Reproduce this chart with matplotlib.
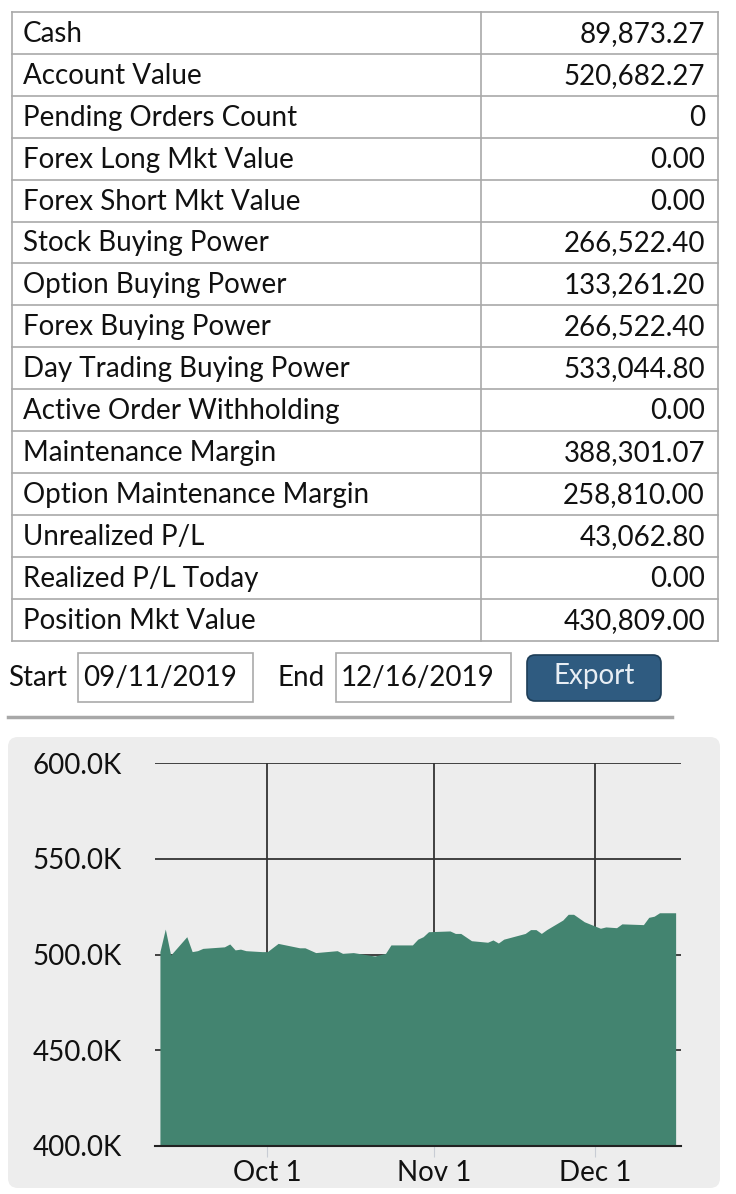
import numpy as np
import matplotlib.pyplot as plt
import matplotlib.dates as mdates
from matplotlib.patches import FancyBboxPatch, Rectangle

plt.rcParams['font.family'] = ['Lato', 'DejaVu Sans']

labels = ['Cash', 'Account Value', 'Pending Orders Count', 'Forex Long Mkt Value',
          'Forex Short Mkt Value', 'Stock Buying Power', 'Option Buying Power',
          'Forex Buying Power', 'Day Trading Buying Power', 'Active Order Withholding',
          'Maintenance Margin', 'Option Maintenance Margin', 'Unrealized P/L',
          'Realized P/L Today', 'Position Mkt Value']
values = ['89,873.27', '520,682.27', '0', '0.00', '0.00', '266,522.40', '133,261.20',
          '266,522.40', '533,044.80', '0.00', '388,301.07', '258,810.00', '43,062.80',
          '0.00', '430,809.00']

dates = ['2019-09-11', '2019-09-12', '2019-09-13', '2019-09-16', '2019-09-17', '2019-09-18',
         '2019-09-19', '2019-09-23', '2019-09-24', '2019-09-25', '2019-09-26', '2019-09-27',
         '2019-09-30', '2019-10-01', '2019-10-03', '2019-10-07', '2019-10-08', '2019-10-10',
         '2019-10-14', '2019-10-15', '2019-10-17', '2019-10-21', '2019-10-23', '2019-10-24',
         '2019-10-28', '2019-10-29', '2019-10-30', '2019-10-31', '2019-11-04', '2019-11-05',
         '2019-11-06', '2019-11-08', '2019-11-11', '2019-11-12', '2019-11-13', '2019-11-14',
         '2019-11-18', '2019-11-19', '2019-11-20', '2019-11-21', '2019-11-22', '2019-11-25',
         '2019-11-26', '2019-11-27', '2019-11-29', '2019-12-02', '2019-12-03', '2019-12-05',
         '2019-12-06', '2019-12-10', '2019-12-11', '2019-12-12', '2019-12-13', '2019-12-16']
account_k = [501.5, 513.3, 499.7, 509.3, 501.5, 502.0, 503.2, 504.0, 505.5, 502.4, 502.8,
             502.0, 501.5, 501.5, 505.8, 503.5, 503.5, 501.0, 502.0, 500.6, 501.0, 499.2,
             500.6, 505.0, 505.0, 508.0, 509.3, 511.9, 512.3, 511.0, 511.0, 507.2, 506.4,
             507.6, 506.0, 508.0, 511.0, 513.0, 513.0, 511.0, 513.0, 518.0, 521.0, 521.0,
             517.1, 513.7, 514.4, 514.0, 516.0, 515.6, 519.4, 520.0, 521.8, 521.8]

W, H = 736, 1194
FS = 20
fig = plt.figure(figsize=(W / 100, H / 100), dpi=100)
bg = fig.add_axes([0, 0, 1, 1])
bg.set_xlim(0, W)
bg.set_ylim(H, 0)
bg.axis('off')

# table
top, rh = 12, 41.9
grid_c = '#a9a9a9'
n = len(labels)
for i in range(n + 1):
    bg.plot([12, 718], [top + i * rh] * 2, color=grid_c, lw=1.2)
for x in (12, 481, 718):
    bg.plot([x, x], [top, top + n * rh], color=grid_c, lw=1.2)
for i, (lab, val) in enumerate(zip(labels, values)):
    yc = top + (i + 0.5) * rh + 1
    bg.text(23, yc, lab, fontsize=FS, va='center', ha='left', color='#111')
    bg.text(705, yc, val, fontsize=FS, va='center', ha='right', color='#111')

# date controls
bg.text(8, 678, 'Start', fontsize=FS, va='center', color='#111')
bg.add_patch(Rectangle((78, 653), 175, 49, fill=False, ec='#aaa', lw=1.2))
bg.text(83, 678, '09/11/2019', fontsize=FS, va='center', color='#111')
bg.text(278, 678, 'End', fontsize=FS, va='center', color='#111')
bg.add_patch(Rectangle((336, 653), 175, 49, fill=False, ec='#aaa', lw=1.2))
bg.text(341, 678, '12/16/2019', fontsize=FS, va='center', color='#111')
bg.add_patch(FancyBboxPatch((530, 658), 128, 40, boxstyle='round,pad=3,rounding_size=8',
                            fc='#2f5b80', ec='#1d3d57', lw=1.2))
bg.text(594, 676, 'Export', fontsize=FS, va='center', ha='center', color='#e8eef4')
bg.plot([8, 672], [717, 717], color='#a8a8a8', lw=2.5)

# chart panel
bg.add_patch(FancyBboxPatch((12, 741), 704, 443, boxstyle='round,pad=4,rounding_size=10',
                            fc='#ededed', ec='none'))

ax = fig.add_axes([155 / W, (H - 1146) / H, (681 - 155) / W, (1146 - 763) / H])
ax.set_facecolor('none')
x = np.array(dates, dtype='datetime64[D]')
ax.fill_between(x, 400, account_k, color='#438470', lw=0, zorder=3)
ax.set_ylim(400, 600)
ax.set_xlim(np.datetime64('2019-09-10') + np.timedelta64(2, 'h'),
            np.datetime64('2019-12-17'))
ax.set_yticks([400, 450, 500, 550, 600])
ax.set_yticklabels(['400.0K', '450.0K', '500.0K', '550.0K', '600.0K'], fontsize=FS)
ax.xaxis.set_major_locator(mdates.MonthLocator())
ax.xaxis.set_major_formatter(mdates.DateFormatter('%b %-d'))
ax.grid(True, color='#333', lw=1.3, zorder=1)
ax.set_axisbelow(True)
for s in ('top', 'right', 'left'):
    ax.spines[s].set_visible(False)
ax.spines['bottom'].set_color('#222')
ax.spines['bottom'].set_linewidth(1.5)
ax.spines['bottom'].set_zorder(4)
ax.tick_params(axis='y', length=0, pad=24, labelcolor='#111')
ax.tick_params(axis='x', length=8, color='#c8ccd4', labelsize=FS, pad=2, labelcolor='#111')

fig.savefig('out.png', dpi=100)
